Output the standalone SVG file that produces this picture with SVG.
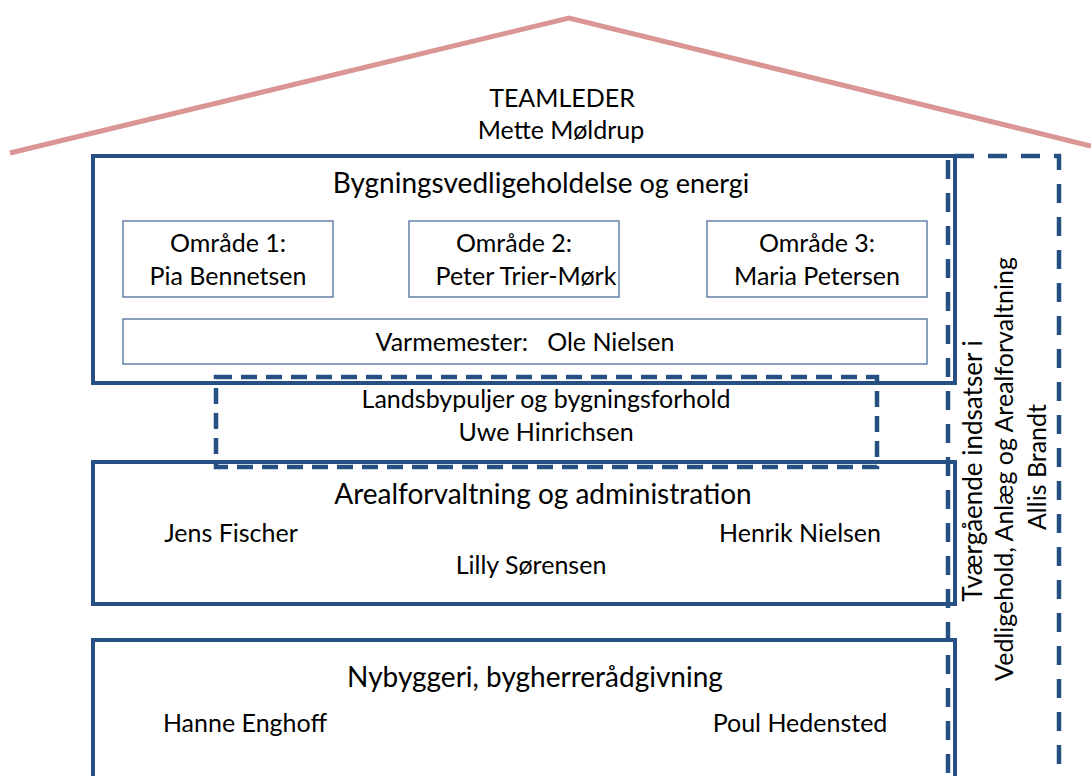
<svg xmlns="http://www.w3.org/2000/svg" width="1091" height="776" viewBox="0 0 1091 776">
<style>
text{font-family:Lato,"Open Sans","Liberation Sans",sans-serif;fill:#000;text-anchor:middle}
.big{font-size:28px}
.med{font-size:25px}
.main{fill:none;stroke:#264f84;stroke-width:4}
.inner{fill:#fff;stroke:#4a6d9c;stroke-width:1.3}
.dash{fill:none;stroke:#264f84;stroke-width:4.5;stroke-dasharray:16 9}
.dashv{fill:none;stroke:#264f84;stroke-width:4.5;stroke-dasharray:19 14}
</style>
<rect width="1091" height="776" fill="#fff"/>
<g id="roof">
<polyline points="10,153 569,18 1091,146" fill="none" stroke="#d99694" stroke-width="5"/>
<text class="med" x="562" y="107">TEAMLEDER</text>
<text class="med" x="561" y="139">Mette Møldrup</text>
</g>
<g id="cross">
<polyline class="dashv" points="948,160 948,776"/>
<polyline class="dashv" points="955,156 1059,156 1059,776"/>
<g transform="translate(982,471) rotate(-90)"><text x="0" y="0" font-size="26">Tværgående indsatser i</text></g>
<g transform="translate(1013,469) rotate(-90)"><text class="med" x="0" y="0">Vedligehold, Anlæg og Arealforvaltning</text></g>
<g transform="translate(1046,467) rotate(-90)"><text class="med" x="0" y="0">Allis Brandt</text></g>
</g>
<g id="bygning">
<rect class="main" x="93" y="156" width="862" height="227"/>
<text x="541" y="193"><tspan font-size="28">Bygningsvedligeholdelse</tspan><tspan font-size="27"> og energi</tspan></text>
</g>
<g id="omraade1">
<rect class="inner" x="123" y="221" width="210" height="76"/>
<text class="med" x="228" y="252">Område 1:</text>
<text class="med" x="228" y="285">Pia Bennetsen</text>
</g>
<g id="omraade2">
<rect class="inner" x="409" y="221" width="210" height="76"/>
<text class="med" x="514" y="252">Område 2:</text>
<text class="med" x="526" y="285">Peter Trier-Mørk</text>
</g>
<g id="omraade3">
<rect class="inner" x="707" y="221" width="220" height="76"/>
<text class="med" x="817" y="252">Område 3:</text>
<text class="med" x="817" y="285">Maria Petersen</text>
</g>
<g id="varmemester">
<rect class="inner" x="123" y="319" width="804" height="45"/>
<text class="med" x="525" y="351" xml:space="preserve">Varmemester:   Ole Nielsen</text>
</g>
<g id="landsby">
<rect class="dash" x="216" y="377" width="661" height="90"/>
<text class="med" x="546" y="408">Landsbypuljer og bygningsforhold</text>
<text class="med" x="546" y="441">Uwe Hinrichsen</text>
</g>
<g id="areal">
<rect class="main" x="93" y="462" width="862" height="142"/>
<text class="big" x="543" y="504">Arealforvaltning og administration</text>
<text class="med" x="231" y="542">Jens Fischer</text>
<text class="med" x="800" y="542">Henrik Nielsen</text>
<text class="med" x="531" y="574">Lilly Sørensen</text>
</g>
<g id="nybyggeri">
<rect class="main" x="93" y="640" width="862" height="150"/>
<text class="big" x="535" y="687">Nybyggeri, bygherrerådgivning</text>
<text class="med" x="245" y="732">Hanne Enghoff</text>
<text class="med" x="800" y="732">Poul Hedensted</text>
</g>
</svg>
